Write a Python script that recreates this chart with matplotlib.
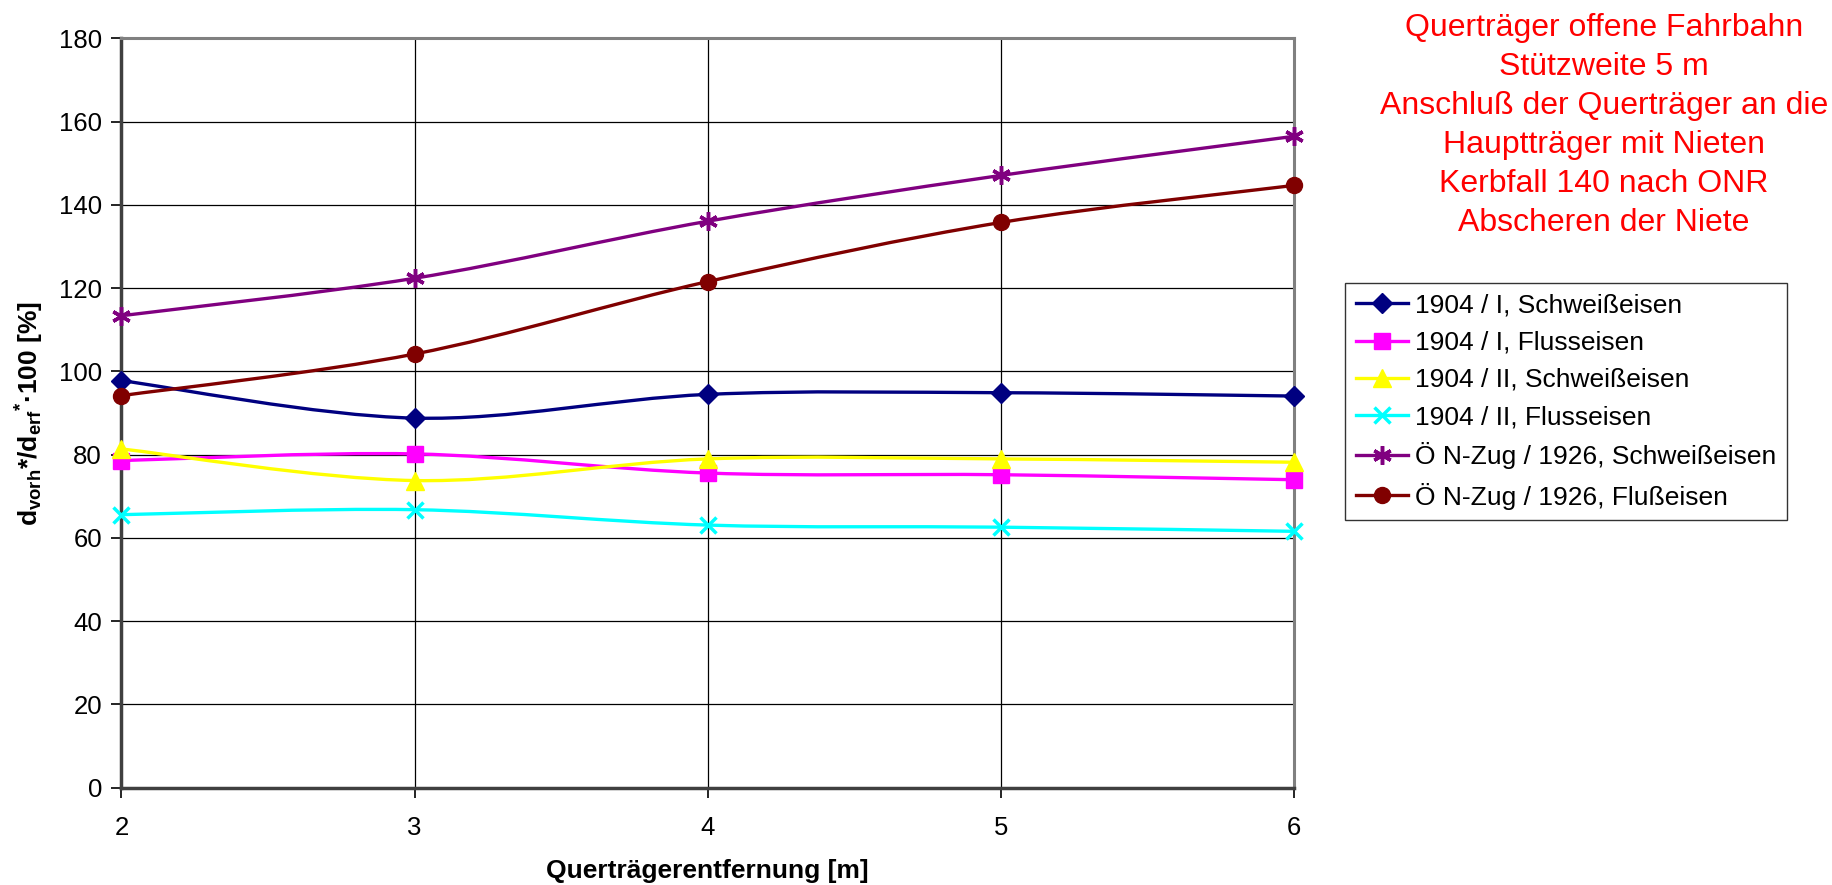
import numpy as np
import matplotlib
matplotlib.use("Agg")
import matplotlib.pyplot as plt
from matplotlib.path import Path
from matplotlib.patches import PathPatch
from matplotlib.lines import Line2D

plt.rcParams['font.family'] = ['Liberation Sans', 'DejaVu Sans']
plt.rcParams['mathtext.fontset'] = 'custom'
plt.rcParams['mathtext.rm'] = 'Liberation Sans'
plt.rcParams['mathtext.bf'] = 'Liberation Sans:bold'
plt.rcParams['mathtext.it'] = 'Liberation Sans:italic'

# data
abstand = [2, 3, 4, 5, 6]
s1904_I_schweiss = [97.8, 88.8, 94.5, 94.9, 94.1]
s1904_I_fluss = [78.6, 80.2, 75.6, 75.2, 74.0]
s1904_II_schweiss = [81.4, 73.8, 79.0, 79.0, 78.2]
s1904_II_fluss = [65.6, 66.8, 63.1, 62.6, 61.6]
nzug_schweiss = [113.4, 122.4, 136.1, 147.1, 156.5]
nzug_fluss = [94.2, 104.2, 121.6, 135.8, 144.7]

labels = ['1904 / I, Schweißeisen', '1904 / I, Flusseisen', '1904 / II, Schweißeisen',
          '1904 / II, Flusseisen', 'Ö N-Zug / 1926, Schweißeisen', 'Ö N-Zug / 1926, Flußeisen']
series = [s1904_I_schweiss, s1904_I_fluss, s1904_II_schweiss,
          s1904_II_fluss, nzug_schweiss, nzug_fluss]
colors = ['#000080', '#FF00FF', '#FFFF00', '#00FFFF', '#800080', '#800000']
markers = ['D', 's', '^', 'x', (6, 2, 0), 'o']
msizes = [10.5, 11.5, 12.5, 11.5, 13.5, 11.5]

note = ("Querträger offene Fahrbahn\nStützweite 5 m\nAnschluß der Querträger an die\n"
        "Hauptträger mit Nieten\nKerbfall 140 nach ONR\nAbscheren der Niete")


def smooth_path(xs, ys):
    # excel-like smoothed line: bezier segments through the data points
    p = np.column_stack([xs, ys]).astype(float)
    n = len(p)
    verts = [p[0]]
    codes = [Path.MOVETO]
    for i in range(n - 1):
        p0 = p[max(i - 1, 0)]
        p1 = p[i]
        p2 = p[i + 1]
        p3 = p[min(i + 2, n - 1)]
        verts += [p1 + (p2 - p0) / 6, p2 - (p3 - p1) / 6, p2]
        codes += [Path.CURVE4] * 3
    return Path(verts, codes)


fig = plt.figure(figsize=(18.32, 8.85), dpi=100)
ax = fig.add_axes([0.0663, 0.1099, 0.6400, 0.8466])

handles = []
for ys, lab, c, m, ms in zip(series, labels, colors, markers, msizes):
    ax.add_patch(PathPatch(smooth_path(abstand, ys), fill=False, edgecolor=c, lw=2.4,
                           zorder=3, clip_on=False))
    mew = 2.5 if m in ('x', (6, 2, 0)) else 1.0
    ax.plot(abstand, ys, linestyle='none', marker=m, markersize=ms, color=c,
            markeredgewidth=mew, zorder=4, clip_on=False)
    handles.append(Line2D([], [], color=c, lw=2.4, marker=m, markersize=ms,
                          markeredgewidth=mew, label=lab))

ax.set_xlim(2, 6)
ax.set_ylim(0, 180)
ax.set_xticks(abstand)
ax.set_yticks(np.arange(0, 181, 20))
ax.grid(True, color='black', lw=0.9)
ax.set_axisbelow(True)
ax.tick_params(axis='both', direction='out', length=7, width=1.2, labelsize=18.5, pad=7)
ax.tick_params(axis='x', pad=13)
for side in ['top', 'right']:
    ax.spines[side].set_color('#808080')
    ax.spines[side].set_linewidth(2.2)
for side in ['left', 'bottom']:
    ax.spines[side].set_color('#404040')
    ax.spines[side].set_linewidth(2.5)

ax.set_xlabel('Querträgerentfernung [m]', fontsize=19, fontweight='bold', labelpad=14)
ax.set_ylabel(r'd$_\mathbf{vorh}$*/d$_\mathbf{erf}$$^\mathbf{*}$·100 [%]', fontsize=19,
              fontweight='bold', labelpad=9.5)

leg = fig.legend(handles=handles, loc='upper left', bbox_to_anchor=(1345 / 1832, 1 - 283 / 885),
                 fontsize=19, frameon=True, fancybox=False, edgecolor='black',
                 handlelength=2.0, handletextpad=0.25, labelspacing=0.5, borderpad=0.4,
                 borderaxespad=0)
leg.get_frame().set_linewidth(1.0)

fig.text(1604 / 1832, 1 - 13 / 885, note, ha='center', va='top', color='red',
         fontsize=23, linespacing=1.39)

fig.savefig('out.png', dpi=100)
